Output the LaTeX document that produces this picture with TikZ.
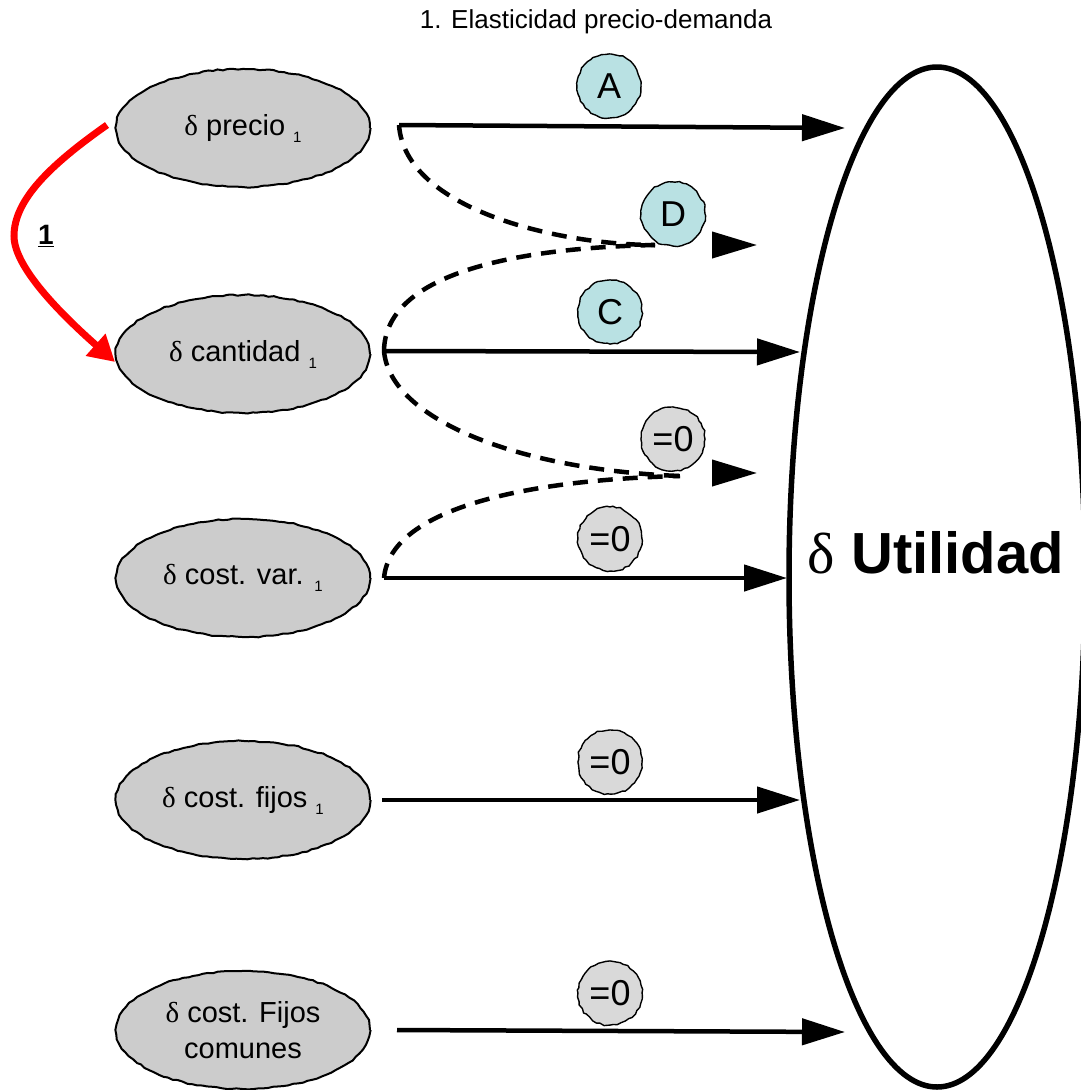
\documentclass[tikz,border=0pt]{standalone}
\usepackage{fontspec}
\setmainfont{Liberation Sans}
\newfontfamily\dfont{Liberation Serif}
\usetikzlibrary{shapes.geometric,arrows.meta,decorations.pathmorphing}
\definecolor{nodegray}{HTML}{CCCCCC}
\definecolor{taggray}{HTML}{D9D9D9}
\definecolor{tagteal}{HTML}{B9E1E3}
\newcommand{\dl}{{\dfont δ}}
\newcommand{\subone}{\raisebox{-7pt}{\fontsize{15}{15}\selectfont 1}}
\begin{document}
\begin{tikzpicture}[x=1pt,y=-1pt,
  varnode/.style={ellipse, draw, fill=nodegray, line width=2pt,
    minimum width=254pt, minimum height=118pt, inner sep=0pt, align=center,
    font=\fontsize{29}{36}\selectfont,
    decorate, decoration={random steps, segment length=5pt, amplitude=0.7pt}},
  tag/.style={circle, draw, line width=1.4pt, minimum size=64pt, inner sep=0pt,
    font=\fontsize{36}{36}\selectfont,
    decorate, decoration={random steps, segment length=4pt, amplitude=0.9pt}},
  arr/.style={line width=4.5pt, -{Triangle[length=43pt,width=26pt]}},
  dline/.style={line width=4.5pt, dash pattern=on 15pt off 10pt},
  tiponly/.style={line width=4pt, -{Triangle[length=45pt,width=26pt]}},
]
\pgfmathsetseed{7}
\useasboundingbox (0,0) rectangle (1080,1090);

% title
\node[font=\fontsize{26}{26}\selectfont] (title) at (596,22) {1. Elasticidad precio-demanda};

% result
\node[ellipse, draw, line width=5.5pt, minimum width=296pt, minimum height=1020pt, inner sep=0pt] (U) at (937,577) {};
\node[font=\fontsize{58}{58}\selectfont] (ut) at (936,553) {\dl\ \textbf{Utilidad}};

% variables
\node[varnode] (p1) at (243,128) {\dl\ precio \subone};
\node[varnode] (q1) at (243,354) {\dl\ cantidad \subone};
\node[varnode] (v1) at (243,578) {\dl\ cost. var. \subone};
\node[varnode] (f1) at (243,800) {\dl\ cost. fijos \subone};
\node[varnode] (k1) at (243,1030) {\dl\ cost. Fijos\\comunes};

% connector ends
\coordinate (pA) at (399,125);  \coordinate (tA) at (845,128);
\coordinate (qA) at (384,351);  \coordinate (tC) at (800,352);
\coordinate (vA) at (384,578);  \coordinate (tV) at (787,578);
\coordinate (fA) at (382,800);  \coordinate (tF) at (800,800);
\coordinate (kA) at (397,1030); \coordinate (tK) at (845,1032);
\coordinate (mD) at (655,245);  \coordinate (tD) at (757,245);
\coordinate (mZ) at (680,476);  \coordinate (tZ) at (757,473);

% direct effects
\draw[arr] (pA) -- (tA);
\draw[arr] (qA) -- (tC);
\draw[arr] (vA) -- (tV);
\draw[arr] (fA) -- (tF);
\draw[arr] (kA) -- (tK);

% cross effects
\draw[dline] (pA) .. controls (405,210) and (560,245) .. (mD);
\draw[dline] (qA) .. controls (385,275) and (510,248) .. (mD);
\draw[tiponly] ([xshift=-45pt]tD) -- (tD);
\draw[dline] (qA) .. controls (390,420) and (520,470) .. (mZ);
\draw[dline] (vA) .. controls (390,510) and (520,480) .. (mZ);
\draw[tiponly] ([xshift=-45pt]tZ) -- (tZ);

% effect tags
\node[tag, fill=tagteal] (A) at (609,86) {A};
\node[tag, fill=tagteal] (D) at (673,214) {D};
\node[tag, fill=tagteal] (C) at (610,312) {C};
\node[tag, fill=taggray] (z1) at (673,439) {=0};
\node[tag, fill=taggray] (z2) at (610,539) {=0};
\node[tag, fill=taggray] (z3) at (610,762) {=0};
\node[tag, fill=taggray] (z4) at (610,993) {=0};

% price change drives quantity change
\draw[red, line width=7pt, -{Triangle[length=26pt,width=28pt]}]
  ([shift={(-8pt,3pt)}]p1.west) .. controls (50,165) and (14,200) .. (14,236)
  .. controls (14,270) and (70,322) .. ([shift={(0pt,-8pt)}]q1.west);
\node[font=\bfseries\fontsize{28}{28}\selectfont] (one) at (46,236) {\underline{1}};
\end{tikzpicture}
\end{document}
